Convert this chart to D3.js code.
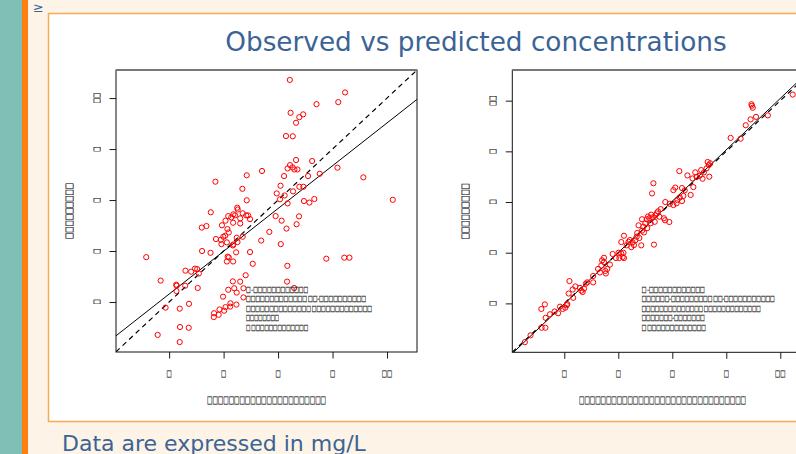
<!DOCTYPE html>
<html>
<head>
<meta charset="utf-8">
<script src="https://cdn.jsdelivr.net/npm/d3@7"></script>
<style>
  body { margin: 0; }
  svg { display: block; font-family: "DejaVu Sans", sans-serif; }
  .tofu { font-family: "Noto Sans CJK SC", sans-serif; stroke: #2a2a2a; stroke-width: 0.35px; fill: #2a2a2a; }
</style>
</head>
<body>
<div id="chart"></div>
<script>
// tick positions shared by both panels (labels came out as missing-glyph boxes)
const tickValues = [2, 4, 6, 8, 10];

// left panel: observed vs predicted, first model
const leftObserved = [6.43, 8.46, 8.21, 7.41, 6.46, 6.92, 6.78, 6.66, 6.29, 6.54,
  6.66, 6.44, 6.35, 6.53, 6.60, 6.71, 7.25, 8.18, 5.41, 4.85,
  6.22, 7.10, 7.53, 9.13, 3.70, 4.69, 6.09, 6.78, 6.93, 6.55,
  5.95, 6.24, 6.07, 4.85, 6.95, 7.15, 7.33, 10.21, 6.35, 3.53,
  4.50, 4.52, 4.17, 4.36, 4.28, 4.42, 4.70, 4.83, 4.90, 4.61,
  4.97, 4.07, 3.94, 4.35, 4.61, 5.91, 6.77, 6.13, 6.68, 3.20,
  3.37, 4.14, 4.19, 6.31, 5.68, 4.06, 3.99, 4.70, 4.48, 3.72,
  3.90, 4.12, 3.92, 4.34, 4.51, 4.36, 5.38, 6.10, 3.21, 3.52,
  4.46, 4.97, 1.16, 4.15, 4.19, 4.12, 4.35, 5.07, 7.77, 8.43,
  8.62, 2.60, 2.81, 2.95, 3.03, 3.09, 6.34, 4.81, 1.69, 2.26,
  2.28, 2.59, 2.27, 3.05, 4.34, 4.61, 6.33, 4.17, 4.39, 4.73,
  6.59, 4.48, 3.98, 4.73, 2.73, 1.87, 2.39, 4.25, 4.47, 4.07,
  4.24, 4.02, 3.85, 3.65, 3.82, 3.64, 2.40, 2.72, 1.58, 2.39];
const leftPredicted = [10.71, 10.22, 9.84, 9.76, 9.42, 9.36, 9.25, 9.03, 8.51, 8.50,
  7.57, 7.37, 7.24, 7.28, 7.20, 7.20, 7.53, 7.27, 7.14, 6.97,
  6.94, 6.94, 7.03, 6.89, 6.72, 6.44, 6.56, 6.52, 6.52, 6.34,
  6.26, 6.18, 6.03, 5.99, 5.96, 5.90, 6.04, 6.01, 5.87, 5.52,
  5.70, 5.63, 5.37, 5.44, 5.32, 5.40, 5.48, 5.40, 5.40, 5.28,
  5.25, 5.19, 5.01, 5.11, 5.08, 5.37, 5.36, 5.19, 5.05, 4.92,
  4.98, 4.86, 4.73, 4.88, 4.75, 4.60, 4.56, 4.56, 4.52, 4.47,
  4.44, 4.34, 4.27, 4.22, 4.35, 4.26, 4.41, 4.27, 4.00, 3.93,
  3.95, 3.96, 3.76, 3.78, 3.75, 3.59, 3.59, 3.50, 3.70, 3.74,
  3.74, 3.23, 3.19, 3.31, 3.29, 3.12, 3.42, 3.05, 2.84, 2.68,
  2.64, 2.64, 2.43, 2.55, 2.81, 2.80, 2.80, 2.48, 2.54, 2.54,
  2.55, 2.37, 2.21, 2.18, 1.93, 1.78, 1.74, 1.95, 1.90, 1.80,
  1.82, 1.66, 1.71, 1.56, 1.50, 1.41, 1.02, 0.99, 0.71, 0.43];
const leftFit = [0.634, 0.839]; // intercept, slope

// right panel: second model
const rightObserved = [0.54, 0.75, 1.16, 1.30, 1.31, 1.15, 1.28, 1.47, 1.64, 1.77,
  1.84, 1.94, 2.04, 2.09, 2.11, 2.19, 2.16, 2.31, 2.33, 2.41,
  2.58, 2.63, 2.68, 2.73, 2.80, 2.85, 3.07, 3.07, 3.25, 3.32,
  3.37, 3.40, 3.47, 3.47, 3.52, 3.54, 3.59, 3.69, 3.79, 3.91,
  4.01, 4.04, 4.11, 4.16, 4.21, 4.19, 4.11, 4.21, 4.31, 4.38,
  4.43, 4.48, 4.53, 4.58, 4.63, 4.68, 4.70, 4.75, 4.78, 4.85,
  4.88, 4.88, 4.93, 4.95, 5.00, 5.05, 5.07, 5.10, 5.15, 5.20,
  5.22, 5.25, 5.27, 5.30, 5.32, 5.35, 5.37, 5.42, 5.47, 5.52,
  5.57, 5.69, 5.73, 5.74, 5.89, 5.91, 6.04, 6.04, 6.11, 6.16,
  6.19, 6.26, 6.28, 6.36, 6.36, 6.41, 6.46, 6.56, 6.68, 6.75,
  6.78, 6.85, 6.90, 7.02, 7.07, 7.12, 7.17, 7.27, 7.31, 7.35,
  7.37, 7.40, 8.16, 8.53, 8.72, 8.90, 8.93, 8.95, 8.98, 9.10,
  9.54, 10.46];
const rightPredicted = [0.47, 0.74, 1.04, 1.04, 1.43, 1.78, 1.96, 1.57, 1.68, 1.61,
  1.87, 1.78, 1.83, 1.93, 1.97, 2.88, 2.39, 2.55, 2.22, 2.67,
  2.61, 2.50, 2.45, 2.58, 2.78, 2.83, 2.83, 3.08, 3.36, 3.22,
  3.49, 3.70, 3.80, 3.63, 3.28, 3.18, 3.36, 3.53, 3.95, 3.79,
  4.00, 3.79, 3.97, 3.83, 3.79, 4.00, 4.42, 4.67, 4.29, 4.43,
  4.50, 4.22, 4.41, 4.30, 4.49, 4.63, 4.78, 5.08, 4.58, 4.29,
  4.87, 5.32, 5.03, 4.80, 5.16, 5.32, 4.97, 5.43, 5.36, 5.16,
  5.50, 6.34, 5.39, 6.74, 4.32, 5.22, 5.47, 5.55, 5.63, 5.42,
  5.72, 5.36, 5.28, 6.00, 5.21, 5.93, 5.88, 6.47, 6.57, 5.95,
  6.08, 7.22, 6.18, 6.55, 6.04, 6.24, 6.46, 7.05, 6.28, 6.93,
  6.59, 7.17, 6.99, 7.04, 7.26, 6.92, 7.17, 7.33, 7.58, 7.46,
  7.00, 7.53, 8.53, 8.50, 9.03, 9.26, 9.86, 9.80, 9.72, 9.36,
  9.42, 10.24];
const rightFit = [-0.05, 1.014];

// the chart text came out as missing-glyph boxes, kept that way
const B = "\u25A1";
const box = n => B.repeat(n);
const tofu = v => String(v).replace(/[^\s\-]/g, B);
const leftStats = [box(1) + " -" + box(12), box(13) + " " + box(2) + "-" + box(10),
  box(14) + " " + box(13), box(8), box(1) + " " + box(13)];
const leftStatsLen = [62, 120, 126, 33, 62];
const rightStats = [box(1) + " -" + box(12), box(6) + "-" + box(9) + " " + box(2) + "-" + box(11),
  box(14) + " " + box(13), box(7) + "-" + box(7), box(1) + " " + box(13)];
const rightStatsLen = [63, 133, 119, 63, 64];

const width = 796, height = 454;
const blue = "#3b6495";
const ink = "#1a1a1a";

const svg = d3.select("#chart").append("svg")
  .attr("width", width)
  .attr("height", height);

// slide background
svg.append("rect").attr("width", width).attr("height", height).attr("fill", "#fdf3e6");
svg.append("rect").attr("width", 22).attr("height", height).attr("fill", "#7fbfb5");
svg.append("rect").attr("x", 22).attr("width", 6).attr("height", height).attr("fill", "#ff7f0e");
svg.append("text").attr("x", 33).attr("y", 12).attr("fill", blue)
  .style("font-size", "13px").text("\u2265");

svg.append("rect")
  .attr("x", 48.5).attr("y", 13.5).attr("width", 760).attr("height", 408)
  .attr("fill", "#fff").attr("stroke", "#f6ab55").attr("stroke-width", 1.5);

svg.append("text")
  .attr("x", 476).attr("y", 51)
  .attr("text-anchor", "middle")
  .attr("fill", blue)
  .style("font-size", "26.3px")
  .text("Observed vs predicted concentrations");

svg.append("text")
  .attr("x", 62).attr("y", 451)
  .attr("fill", blue)
  .style("font-size", "22px")
  .text("Data are expressed in mg/L");

function drawPanel(cfg) {
  const x = d3.scaleLinear().domain(cfg.xDomain).range([cfg.left, cfg.right]);
  const y = d3.scaleLinear().domain(cfg.yDomain).range([cfg.bottom, cfg.top]);
  const g = svg.append("g").attr("fill", ink);

  const clipId = "clip-" + cfg.name;
  g.append("clipPath").attr("id", clipId)
    .append("rect")
    .attr("x", cfg.left).attr("y", cfg.top)
    .attr("width", cfg.right - cfg.left).attr("height", cfg.bottom - cfg.top);

  // x axis ticks
  const xAxis = g.append("g")
    .attr("transform", `translate(0,${cfg.bottom})`)
    .call(d3.axisBottom(x).tickValues(tickValues).tickSize(6.5).tickFormat(""));
  xAxis.select(".domain").remove();
  xAxis.selectAll(".tick line").attr("stroke", ink);
  g.selectAll(".xlab").data(tickValues).join("text")
    .attr("class", "tofu")
    .attr("x", d => x(d)).attr("y", cfg.bottom + 24.5)
    .attr("text-anchor", "middle")
    .attr("textLength", d => tofu(d).length * 5.2)
    .attr("lengthAdjust", "spacingAndGlyphs")
    .style("font-size", "8.5px")
    .text(d => tofu(d));

  // y axis ticks, labels parallel to the axis
  const yAxis = g.append("g")
    .attr("transform", `translate(${cfg.left},0)`)
    .call(d3.axisLeft(y).tickValues(tickValues).tickSize(6.5).tickFormat(""));
  yAxis.select(".domain").remove();
  yAxis.selectAll(".tick line").attr("stroke", ink);
  g.selectAll(".ylab").data(tickValues).join("text")
    .attr("class", "tofu")
    .attr("transform", d => `translate(${cfg.yTickX},${y(d)}) rotate(-90)`)
    .attr("text-anchor", "middle")
    .attr("dy", "0.38em")
    .attr("textLength", d => tofu(d).length * 5.2)
    .attr("lengthAdjust", "spacingAndGlyphs")
    .style("font-size", "8.5px")
    .text(d => tofu(d));

  // reference line y = x and fitted line
  const plot = g.append("g").attr("clip-path", `url(#${clipId})`);
  const [x0, x1] = cfg.xDomain;
  plot.append("line")
    .attr("x1", x(x0)).attr("y1", y(x0))
    .attr("x2", x(x1)).attr("y2", y(x1))
    .attr("stroke", "#000").attr("stroke-width", 1.2)
    .attr("stroke-dasharray", "5,4");
  plot.append("line")
    .attr("x1", x(x0)).attr("y1", y(cfg.fit[0] + cfg.fit[1] * x0))
    .attr("x2", x(x1)).attr("y2", y(cfg.fit[0] + cfg.fit[1] * x1))
    .attr("stroke", "#000").attr("stroke-width", 1);

  plot.selectAll("circle")
    .data(cfg.xs.map((v, i) => [v, cfg.ys[i]]))
    .join("circle")
    .attr("cx", d => x(d[0]))
    .attr("cy", d => y(d[1]))
    .attr("r", 2.6)
    .attr("fill", "none")
    .attr("stroke", "#ff0000")
    .attr("stroke-width", 1);

  // plot frame
  g.append("rect")
    .attr("x", cfg.left).attr("y", cfg.top)
    .attr("width", cfg.right - cfg.left).attr("height", cfg.bottom - cfg.top)
    .attr("fill", "none").attr("stroke", "#111").attr("stroke-width", 1);
  g.append("line")
    .attr("x1", cfg.left).attr("x2", cfg.right)
    .attr("y1", cfg.top).attr("y2", cfg.top)
    .attr("stroke", "#777").attr("stroke-width", 2);

  // stats block
  g.selectAll(".stat").data(cfg.stats).join("text")
    .attr("class", "tofu")
    .attr("x", cfg.statsX)
    .attr("y", (d, i) => 291.5 + i * 9.5)
    .attr("textLength", (d, i) => cfg.statsLen[i])
    .attr("lengthAdjust", "spacingAndGlyphs")
    .style("font-size", "5.8px")
    .text(d => d);

  // axis titles
  g.append("text")
    .attr("class", "tofu")
    .attr("x", (cfg.left + cfg.right) / 2).attr("y", cfg.bottom + 51.5)
    .attr("text-anchor", "middle")
    .attr("textLength", cfg.xLabelWidth)
    .attr("lengthAdjust", "spacingAndGlyphs")
    .style("font-size", "9px")
    .text(box(cfg.xLabelLen));
  g.append("text")
    .attr("class", "tofu")
    .attr("transform", `translate(${cfg.yLabelX},${(cfg.top + cfg.bottom) / 2}) rotate(-90)`)
    .attr("text-anchor", "middle")
    .attr("dy", "0.38em")
    .attr("textLength", 56)
    .attr("lengthAdjust", "spacingAndGlyphs")
    .style("font-size", "9px")
    .text(box(9));
}

drawPanel({
  name: "left", xs: leftObserved, ys: leftPredicted, fit: leftFit,
  left: 116, right: 417, top: 70, bottom: 352,
  xDomain: [0.05, 11.1], yDomain: [0.04, 11.1],
  yTickX: 96.5, yLabelX: 70, statsX: 246,
  stats: leftStats, statsLen: leftStatsLen, xLabelLen: 22, xLabelWidth: 119
});
drawPanel({
  name: "right", xs: rightObserved, ys: rightPredicted, fit: rightFit,
  left: 512.3, right: 812.7, top: 70, bottom: 352.3,
  xDomain: [0.074, 11.2], yDomain: [0.07, 11.21],
  yTickX: 492.5, yLabelX: 466, statsX: 641.7,
  stats: rightStats, statsLen: rightStatsLen, xLabelLen: 31, xLabelWidth: 167
});
</script>
</body>
</html>
